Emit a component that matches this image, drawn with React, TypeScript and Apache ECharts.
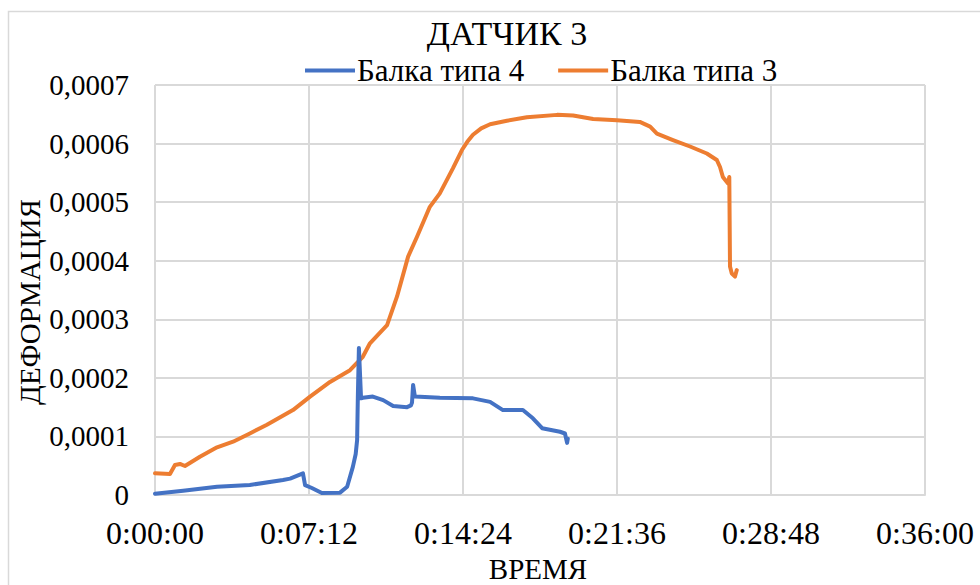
import React, { useEffect, useRef } from "react";
import * as echarts from "echarts";

// time in seconds, strain values
const beam4Time = [0, 79, 174, 266, 359, 379, 415, 421, 440, 468, 519, 539, 555, 563, 567, 569, 572, 578, 583, 611, 640, 668, 707, 718, 721, 724, 729, 799, 892, 940, 976, 1032, 1060, 1086, 1136, 1150, 1156, 1158];
const beam4Value = [0.000002, 0.0000073, 0.0000142, 0.0000171, 0.0000256, 0.000028, 0.000037, 0.000017, 0.000012, 0.0000034, 0.000004, 0.000014, 0.000048, 0.00007, 0.000094, 0.000167, 0.000251, 0.000165, 0.000166, 0.000168, 0.000162, 0.000152, 0.00015, 0.000153, 0.000158, 0.000188, 0.000168, 0.000166, 0.000165, 0.000159, 0.000145, 0.000145, 0.000131, 0.000114, 0.000108, 0.000105, 0.000089, 0.000096];

const beam3Time = [0, 42, 56, 70, 84, 126, 174, 219, 266, 314, 387, 435, 491, 547, 583, 603, 651, 679, 710, 735, 771, 799, 836, 861, 876, 892, 915, 940, 987, 1043, 1128, 1173, 1229, 1296, 1360, 1389, 1408, 1453, 1501, 1548, 1576, 1585, 1593, 1607, 1611, 1613, 1618, 1627, 1632];
const beam3Value = [0.000037, 0.0000359, 0.0000512, 0.000053, 0.0000495, 0.0000654, 0.0000814, 0.000091, 0.000105, 0.00012, 0.000145, 0.000168, 0.000193, 0.000213, 0.000236, 0.000259, 0.00029, 0.000339, 0.000407, 0.000441, 0.000492, 0.000515, 0.000558, 0.000589, 0.000603, 0.000615, 0.000626, 0.000633, 0.000639, 0.000645, 0.000649, 0.000648, 0.000642, 0.00064, 0.000637, 0.000629, 0.000617, 0.000606, 0.000595, 0.000583, 0.000572, 0.00056, 0.000543, 0.000532, 0.000543, 0.00039, 0.000378, 0.000373, 0.000384];

const seriesNames = ["Балка типа 4", "Балка типа 3"];
const chartTitle = "ДАТЧИК 3";
const xTitle = "ВРЕМЯ";
const yTitle = "ДЕФОРМАЦИЯ";

const FONT = "Liberation Serif";

function fmtTime(s: number) {
  const h = Math.floor(s / 3600);
  const m = Math.floor((s % 3600) / 60);
  const sec = Math.round(s % 60);
  return `${h}:${String(m).padStart(2, "0")}:${String(sec).padStart(2, "0")}`;
}

export default function App() {
  const ref = useRef<HTMLDivElement>(null);
  useEffect(() => {
    if (!ref.current) return;
    const chart = echarts.init(ref.current, undefined, { renderer: "svg" });
    chart.setOption({
      animation: false,
      textStyle: { fontFamily: FONT },
      grid: { left: 155, right: 55, top: 85, bottom: 90, containLabel: false },
      legend: {
        data: seriesNames,
        left: 300,
        top: 50,
        icon: "rect",
        itemWidth: 50,
        itemHeight: 4,
        itemGap: 34,
        textStyle: { fontFamily: FONT, fontSize: 31, color: "#000", padding: [0, 0, 0, -3] },
      },
      graphic: [
        {
          type: "rect",
          shape: { x: 8.5, y: 11.5, width: 1000, height: 1000 },
          style: { fill: "none", stroke: "#d9d9d9", lineWidth: 1.5 },
          silent: true,
          z: -1,
        },
        {
          type: "text",
          x: 507,
          y: 33,
          style: { text: chartTitle, fontFamily: FONT, fontSize: 34, fill: "#000", align: "center", verticalAlign: "middle" },
        },
        {
          type: "text",
          x: 538,
          y: 569,
          style: { text: xTitle, fontFamily: FONT, fontSize: 29, fill: "#000", align: "center", verticalAlign: "middle" },
        },
        {
          type: "text",
          x: 30,
          y: 302,
          rotation: Math.PI / 2,
          style: { text: yTitle, fontFamily: FONT, fontSize: 29, fill: "#000", align: "center", verticalAlign: "middle" },
        },
      ],
      xAxis: {
        type: "value",
        min: 0,
        max: 2160,
        interval: 432,
        axisLine: { show: true, lineStyle: { color: "#d9d9d9", width: 2 } },
        axisTick: { show: false },
        splitLine: { show: true, lineStyle: { color: "#d9d9d9", width: 2 } },
        axisLabel: {
          formatter: (v: number) => fmtTime(v),
          fontFamily: FONT,
          fontSize: 32,
          color: "#000",
          margin: 22,
        },
      },
      yAxis: {
        type: "value",
        min: 0,
        max: 0.0007,
        interval: 0.0001,
        axisLine: { show: false },
        axisTick: { show: false },
        splitLine: { show: true, lineStyle: { color: "#d9d9d9", width: 2 } },
        axisLabel: {
          formatter: (v: number) => (v === 0 ? "0" : v.toFixed(4).replace(".", ",")),
          fontFamily: FONT,
          fontSize: 29,
          color: "#000",
          margin: 26,
        },
      },
      series: [
        {
          name: seriesNames[0],
          type: "line",
          showSymbol: false,
          symbol: "none",
          data: beam4Time.map((t, i) => [t, beam4Value[i]]),
          lineStyle: { color: "#4472C4", width: 4, cap: "round", join: "round" },
          itemStyle: { color: "#4472C4" },
          z: 3,
        },
        {
          name: seriesNames[1],
          type: "line",
          showSymbol: false,
          symbol: "none",
          data: beam3Time.map((t, i) => [t, beam3Value[i]]),
          lineStyle: { color: "#ED7D31", width: 4, cap: "round", join: "round" },
          itemStyle: { color: "#ED7D31" },
          z: 2,
        },
      ],
    });
    return () => chart.dispose();
  }, []);
  return <div ref={ref} style={{ position: "fixed", left: 0, top: 0, width: 980, height: 585, background: "#fff" }} />;
}
